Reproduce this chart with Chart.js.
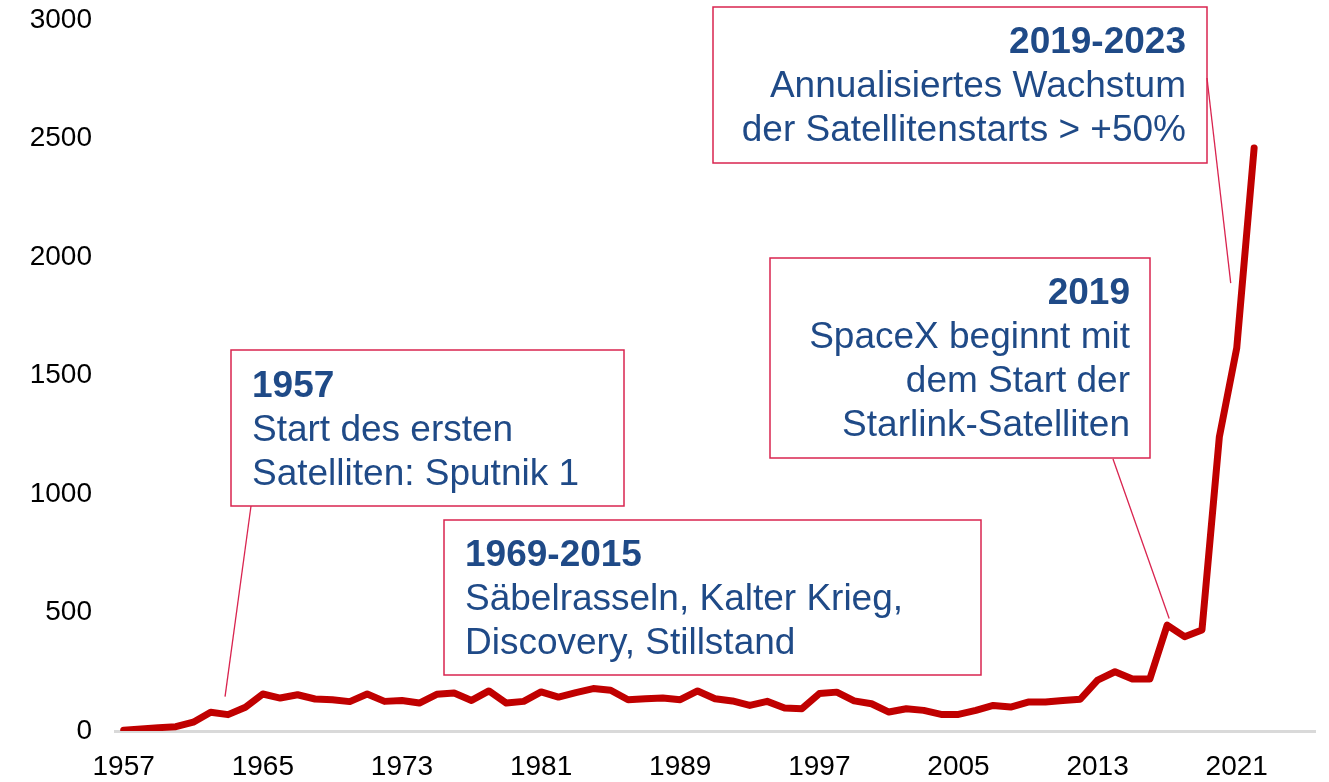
<!DOCTYPE html>
<html>
<head>
<meta charset="utf-8">
<script src="https://cdn.jsdelivr.net/npm/chart.js@4.4.1/dist/chart.umd.min.js"></script>
<style>
  html, body { margin: 0; padding: 0; background: #fff; }
  #wrap { width: 1329px; height: 782px; position: relative; }
</style>
</head>
<body>
<div id="wrap"><canvas id="chart"></canvas></div>
<script>
// Satellitenstarts pro Jahr
const years = [
  '1957','1958','1959','1960','1961','1962','1963','1964','1965','1966',
  '1967','1968','1969','1970','1971','1972','1973','1974','1975','1976',
  '1977','1978','1979','1980','1981','1982','1983','1984','1985','1986',
  '1987','1988','1989','1990','1991','1992','1993','1994','1995','1996',
  '1997','1998','1999','2000','2001','2002','2003','2004','2005','2006',
  '2007','2008','2009','2010','2011','2012','2013','2014','2015','2016',
  '2017','2018','2019','2020','2021','2022','2023','2024','2025'
];
const launches = [
  3, 8, 14, 18, 37, 79, 69, 100, 156, 139,
  153, 135, 132, 124, 156, 125, 129, 118, 155, 160,
  129, 169, 118, 125, 165, 143, 162, 179, 172, 132,
  136, 139, 132, 169, 136, 127, 108, 125, 97, 94,
  158, 164, 127, 115, 80, 94, 87, 70, 70, 87,
  108, 101, 122, 122, 129, 134, 215, 250, 219, 219,
  447, 398, 426, 1241, 1616, 2460, null, null, null
];
const xTickYears = ['1957','1965','1973','1981','1989','1997','2005','2013','2021'];
const yTicks = [0, 500, 1000, 1500, 2000, 2500, 3000];

const FONT = '"Liberation Sans", Arial, sans-serif';
const noteBlue = '#1f4a87';
const noteBorder = '#d9244f';

// Textboxen mit Hinweislinien
const notes = [
  { box: [231, 350, 393, 156], align: 'left', tx: 252, base: 397,
    lines: ['1957', 'Start des ersten', 'Satelliten: Sputnik 1'],
    leader: { from: [251, 506], year: '1963', value: 145, dx: -3 } },
  { box: [444, 520, 537, 155], align: 'left', tx: 465, base: 566,
    lines: ['1969-2015', 'Säbelrasseln, Kalter Krieg,', 'Discovery, Stillstand'] },
  { box: [770, 258, 380, 200], align: 'right', tx: 1130, base: 304,
    lines: ['2019', 'SpaceX beginnt mit', 'dem Start der', 'Starlink-Satelliten'],
    leader: { from: [1113, 459], year: '2017', value: 475, dx: 2 } },
  { box: [713, 7, 494, 156], align: 'right', tx: 1186, base: 53,
    lines: ['2019-2023', 'Annualisiertes Wachstum', 'der Satellitenstarts > +50%'],
    leader: { from: [1207, 78], year: '2021', value: 1890, dx: -6 } }
];

const notesPlugin = {
  id: 'notes',
  afterDatasetsDraw(chart) {
    const ctx = chart.ctx;
    const x = chart.scales.x, y = chart.scales.y;
    ctx.save();
    notes.forEach(n => {
      const [bx, by, bw, bh] = n.box;
      ctx.fillStyle = '#fff';
      ctx.fillRect(bx, by, bw, bh);
      ctx.strokeStyle = noteBorder;
      ctx.lineWidth = 1.5;
      ctx.strokeRect(bx, by, bw, bh);
      if (n.leader) {
        const l = n.leader;
        const ex = x.getPixelForValue(years.indexOf(l.year)) + l.dx;
        const ey = y.getPixelForValue(l.value);
        ctx.beginPath();
        ctx.moveTo(l.from[0], l.from[1]);
        ctx.lineTo(ex, ey);
        ctx.lineWidth = 1.3;
        ctx.stroke();
      }
      ctx.fillStyle = noteBlue;
      ctx.textAlign = n.align;
      ctx.textBaseline = 'alphabetic';
      n.lines.forEach((t, i) => {
        ctx.font = (i === 0 ? 'bold ' : '') + '37px ' + FONT;
        ctx.fillText(t, n.tx, n.base + i * 44);
      });
    });
    ctx.restore();
  }
};

new Chart(document.getElementById('chart'), {
  type: 'line',
  data: {
    labels: years,
    datasets: [{
      data: launches,
      borderColor: '#c00000',
      borderWidth: 7,
      borderCapStyle: 'round',
      borderJoinStyle: 'round',
      pointRadius: 0,
      tension: 0,
      fill: false
    }]
  },
  options: {
    responsive: true,
    maintainAspectRatio: false,
    animation: false,
    layout: { padding: { top: 20, right: 14, left: 0, bottom: 0 } },
    plugins: {
      legend: { display: false },
      tooltip: { enabled: false }
    },
    scales: {
      x: {
        type: 'category',
        offset: true,
        grid: { display: false, drawTicks: false },
        border: { display: true, color: '#d9d9d9', width: 3 },
        afterFit: s => { s.height = 51; },
        ticks: {
          autoSkip: false,
          maxRotation: 0,
          padding: 19,
          color: '#000',
          font: { family: FONT, size: 28 },
          callback: function (v) {
            const lab = this.getLabelForValue(v);
            return xTickYears.includes(lab) ? lab : null;
          }
        }
      },
      y: {
        min: 0,
        max: 3000,
        // unsichtbare Tick-Striche schieben die Beschriftung nach links
        grid: { display: false, drawTicks: true, tickLength: 23, tickColor: 'rgba(0,0,0,0)' },
        border: { display: false },
        afterFit: s => { s.width = 115; },
        afterBuildTicks: s => { s.ticks = yTicks.map(v => ({ value: v })); },
        ticks: {
          padding: 0,
          color: '#000',
          font: { family: FONT, size: 28 },
          callback: v => String(v)
        }
      }
    }
  },
  plugins: [notesPlugin]
});
</script>
</body>
</html>
